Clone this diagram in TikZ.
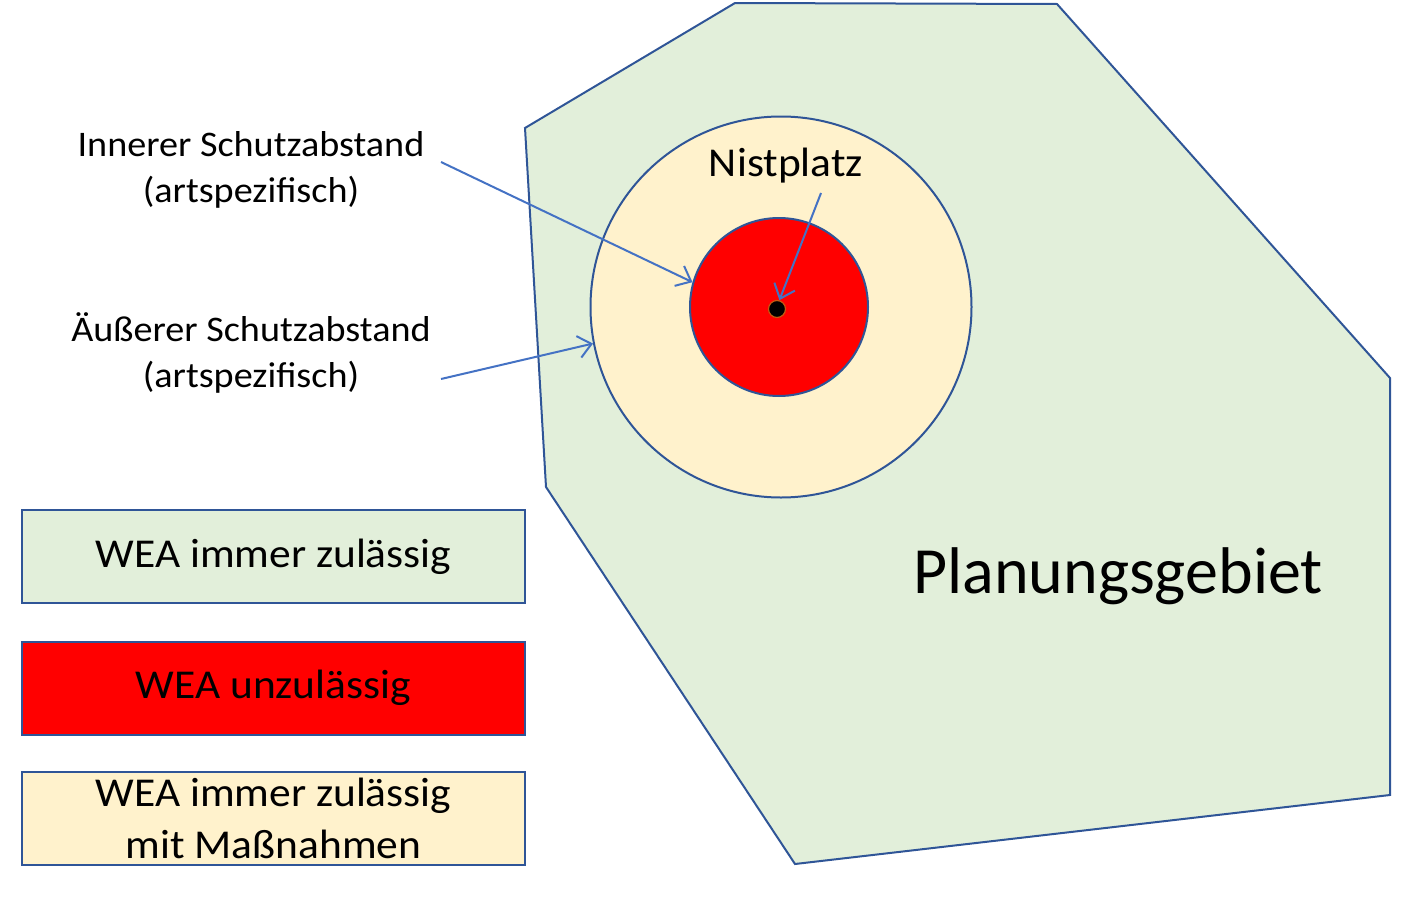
\documentclass[tikz,border=0pt]{standalone}
\usepackage{fontspec}
\setmainfont{Carlito}
\newfontfamily\widefont[FakeStretch=1.06]{Carlito}
\usetikzlibrary{arrows.meta}
\definecolor{lgreen}{HTML}{E2EFDA}
\definecolor{lyellow}{HTML}{FFF2CC}
\definecolor{dblue}{HTML}{2F5597}
\definecolor{ablue}{HTML}{4472C4}
\definecolor{dotrim}{HTML}{C55A11}
\tikzset{
  shapeline/.style={draw=dblue, line width=2pt},
  legbox/.style={shapeline, rectangle, minimum width=503pt, minimum height=93pt, inner sep=0pt, align=center, font=\widefont\fontsize{41}{50}\selectfont},
  lbl/.style={align=center, font=\widefont\fontsize{36}{46}\selectfont, inner sep=0pt},
  pointer/.style={draw=ablue, line width=2pt, -{Straight Barb[length=13pt,width=22pt,line width=2pt]}},
}
\begin{document}
\begin{tikzpicture}[x=1pt,y=-1pt]
\useasboundingbox (0,0) rectangle (1419,897);
% planning area
\draw[shapeline, fill=lgreen] (735,3) -- (1057,4) -- (1390,378) -- (1390,795) -- (795,864) -- (546,487) -- (525,128) -- cycle;
% circles
\node[shapeline, circle, fill=lyellow, minimum size=381pt, inner sep=0pt] (outer) at (781,307) {};
\node[shapeline, circle, fill=red, minimum size=178pt, inner sep=0pt] (inner) at (779,307) {};
\node[circle, draw=dotrim, line width=1.2pt, fill=black, minimum size=17pt, inner sep=0pt] (dot) at (777,309) {};
% texts
\node[lbl] (innerlbl) at (251,170) {Innerer Schutzabstand\\(artspezifisch)};
\node[lbl] (outerlbl) at (251,353) {Äußerer Schutzabstand\\(artspezifisch)};
\node[font=\widefont\fontsize{41}{46}\selectfont, inner sep=0pt] (nist) at (786,166) {Nistplatz};
\node[font=\fontsize{66}{80}\selectfont, inner sep=0pt] (plan) at (1118,576) {Planungsgebiet};
% pointers
\coordinate (s1) at (441,162);
\coordinate (s2) at (441,379);
\coordinate (s3) at (821,193);
\draw[pointer] (s1) -- (inner.164);
\draw[pointer] (s2) -- (outer.191);
\draw[pointer] (s3) -- (dot.75);
% legend
\node[legbox, fill=lgreen] (leg1) at (273.5,556.5) {WEA immer zulässig};
\node[legbox, fill=red] (leg2) at (273.5,688) {WEA unzulässig};
\node[legbox, fill=lyellow, font=\widefont\fontsize{41}{52}\selectfont] (leg3) at (273.5,818) {WEA immer zulässig\\mit Maßnahmen};
\end{tikzpicture}
\end{document}
